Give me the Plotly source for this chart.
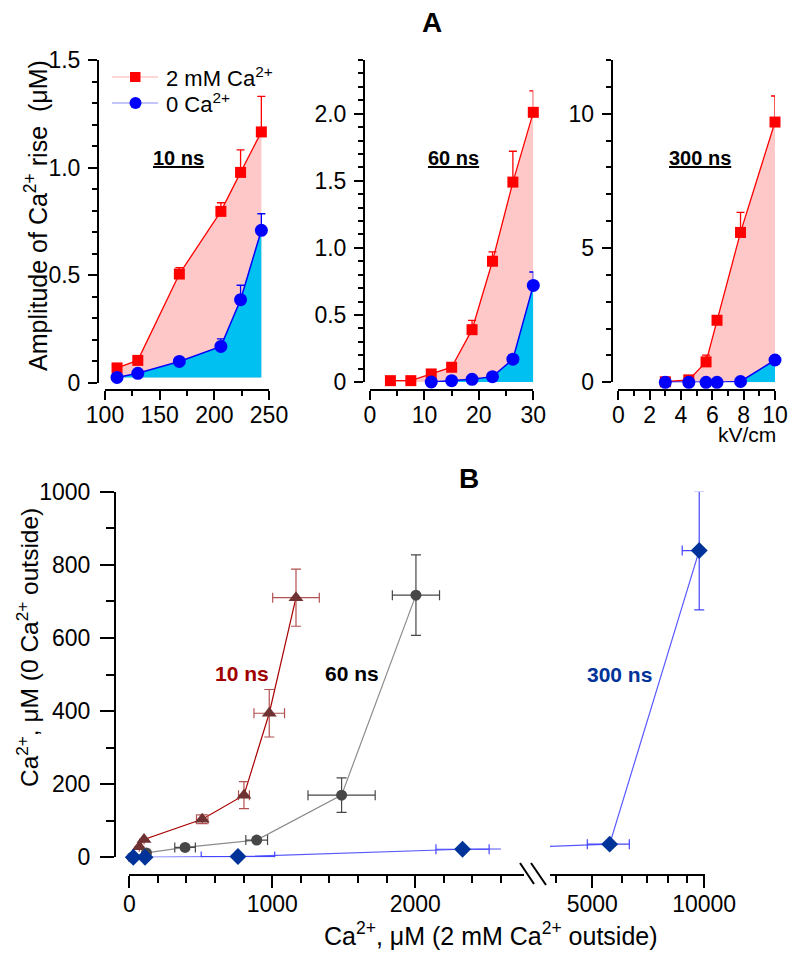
import math
import plotly.graph_objects as go

# page body has an 8px margin: draw in page pixels and convert
OFF = 8
W, H = 800 - OFF, 962 - OFF


def px(x):
    return (x - OFF) / W


def py(y):
    return 1 - (y - OFF) / H


FONT = "Arial, Liberation Sans, sans-serif"

# ---------------- Panel A data ----------------
A1_X = [111, 130, 168, 206, 224, 243]
A1_RED = [0.07, 0.105, 0.506, 0.797, 0.978, 1.166]
A1_RED_ERR = [0.0, 0.0, 0.03, 0.04, 0.105, 0.165]
A1_BLUE = [0.026, 0.045, 0.10, 0.17, 0.387, 0.709]
A1_BLUE_ERR = [0.0, 0.0, 0.0, 0.035, 0.067, 0.077]

A2_X_RED = [3.75, 7.5, 11.25, 15, 18.75, 22.5, 26.25, 30]
A2_RED = [0.01, 0.01, 0.06, 0.11, 0.39, 0.90, 1.49, 2.01]
A2_RED_ERR = [0, 0, 0, 0, 0.07, 0.07, 0.23, 0.16]
A2_X_BLUE = [11.25, 15, 18.75, 22.5, 26.25, 30]
A2_BLUE = [0.0, 0.01, 0.02, 0.04, 0.17, 0.72]
A2_BLUE_ERR = [0, 0, 0, 0, 0.03, 0.10]

A3_X = [3.0, 4.5, 5.6, 6.3, 7.8, 10.0]
A3_RED = [0.02, 0.09, 0.76, 2.31, 5.58, 9.69]
A3_RED_ERR = [0, 0, 0.25, 0, 0.75, 0.97]
A3_BLUE = [0, 0, 0, 0, 0.03, 0.83]
A3_BLUE_ERR = [0, 0, 0, 0, 0, 0]

A1_XTICKS = [100, 150, 200, 250]
A2_XTICKS = [0, 10, 20, 30]
A3_XTICKS = [0, 2, 4, 6, 8, 10]
A1_YTICKS = [0, 0.5, 1.0, 1.5]
A1_YLABELS = ["0", "0.5", "1.0", "1.5"]
A2_YTICKS = [0, 0.5, 1.0, 1.5, 2.0]
A2_YLABELS = ["0", "0.5", "1.0", "1.5", "2.0"]
A3_YTICKS = [0, 5, 10]
A3_YLABELS = ["0", "5", "10"]

PANEL_LABELS_A = ["10 ns", "60 ns", "300 ns"]

# ---------------- Panel B data ----------------
B10_X = [70, 103, 510, 802, 979, 1166]
B10_Y = [29, 49, 104, 170, 394, 710]
B10_XERR = [0, 0, 40, 38, 107, 163]
B10_YERR = [0, 0, 12, 37, 65, 78]

B60_X = [20, 120, 390, 891, 1485, 2005]
B60_Y = [0, 12, 27, 47, 170, 717]
B60_XERR = [0, 0, 72, 76, 235, 165]
B60_YERR = [0, 0, 0, 0, 47, 110]

B300_X = [28, 110, 760, 2331, 5570, 9697]
B300_Y = [0, 0, 2, 22, 36, 839]
B300_XERR = [0, 0, 257, 186, 720, 970]
B300_YERR = [0, 0, 0, 0, 0, 162]

B_XTICKS_LIN = [0, 1000, 2000]
B_XTICKS_LOG = [5000, 10000]
B_XMINOR_LOG = [4000, 6000, 7000, 8000, 9000]
B_YTICKS = [0, 200, 400, 600, 800, 1000]
B_LIN_MAX = 2600
B_LOG_MIN = 3850
B_LOG_MAX = 10050

RED = "#ff0000"
PINK = "#ffc8c8"
BLUE = "#0000ff"
CYAN = "#00c0f2"

fig = go.Figure()


def add_panel_a(xa, ya, xr, yr, er, xb, yb, eb):
    floor = min(yb)
    fig.add_trace(go.Scatter(
        x=list(xr) + [xr[-1], xr[0]], y=list(yr) + [floor, floor],
        fill="toself", fillcolor=PINK, mode="none", xaxis=xa, yaxis=ya,
        showlegend=False, hoverinfo="skip"))
    fig.add_trace(go.Scatter(
        x=list(xb) + [xb[-1], xb[0]], y=list(yb) + [floor, floor],
        fill="toself", fillcolor=CYAN, mode="none", xaxis=xa, yaxis=ya,
        showlegend=False, hoverinfo="skip"))
    fig.add_trace(go.Scatter(
        x=xr, y=yr, mode="lines+markers", xaxis=xa, yaxis=ya,
        line=dict(color=RED, width=1.3),
        marker=dict(symbol="square", size=11, color=RED),
        error_y=dict(type="data", array=er, arrayminus=[0] * len(er),
                     symmetric=False, color=RED, thickness=1.3, width=4),
        cliponaxis=False, showlegend=False))
    fig.add_trace(go.Scatter(
        x=xb, y=yb, mode="lines+markers", xaxis=xa, yaxis=ya,
        line=dict(color=BLUE, width=1.5),
        marker=dict(symbol="circle", size=13, color=BLUE),
        error_y=dict(type="data", array=eb, arrayminus=[0] * len(eb),
                     symmetric=False, color=BLUE, thickness=1.3, width=4),
        cliponaxis=False, showlegend=False))


add_panel_a("x", "y", A1_X, A1_RED, A1_RED_ERR, A1_X, A1_BLUE, A1_BLUE_ERR)
add_panel_a("x2", "y2", A2_X_RED, A2_RED, A2_RED_ERR, A2_X_BLUE, A2_BLUE, A2_BLUE_ERR)
add_panel_a("x3", "y3", A3_X, A3_RED, A3_RED_ERR, A3_X, A3_BLUE, A3_BLUE_ERR)

# ---------------- Panel B traces ----------------
C10_LINE, C10_MK, C10_ERR = "#a80000", "#6e3232", "#b45050"
C60_LINE, C60_MK, C60_ERR = "#8c8c8c", "#474747", "#474747"
C300_LINE, C300_MK, C300_ERR = "#5858ff", "#003399", "#4444ff"


def b_series(xs, ys, xe, ye, lc, mc, ec, sym, size, split=False):
    fig.add_trace(go.Scatter(x=xs, y=ys, mode="lines", xaxis="x4", yaxis="y4",
                             line=dict(color=lc, width=1.2), showlegend=False,
                             hoverinfo="skip"))
    if split:
        fig.add_trace(go.Scatter(x=xs, y=ys, mode="lines", xaxis="x5", yaxis="y4",
                                 line=dict(color=lc, width=1.2), showlegend=False,
                                 hoverinfo="skip"))
    for xa, keep in (("x4", lambda v: v <= B_LIN_MAX), ("x5", lambda v: v >= B_LOG_MIN)):
        idx = [i for i, v in enumerate(xs) if keep(v)]
        if not idx:
            continue
        fig.add_trace(go.Scatter(
            x=[xs[i] for i in idx], y=[ys[i] for i in idx], mode="markers",
            xaxis=xa, yaxis="y4",
            marker=dict(symbol=sym, size=size, color=mc),
            error_x=dict(type="data", array=[xe[i] for i in idx], color=ec,
                         thickness=1.2, width=5),
            error_y=dict(type="data", array=[ye[i] for i in idx], color=ec,
                         thickness=1.2, width=5),
            cliponaxis=False, showlegend=False))


b_series(B10_X, B10_Y, B10_XERR, B10_YERR, C10_LINE, C10_MK, C10_ERR, "triangle-up", 13)
b_series(B60_X, B60_Y, B60_XERR, B60_YERR, C60_LINE, C60_MK, C60_ERR, "circle", 11)
b_series(B300_X, B300_Y, B300_XERR, B300_YERR, C300_LINE, C300_MK, C300_ERR, "diamond", 13, split=True)

# ---------------- Axes ----------------
TICKFONT = dict(family=FONT, size=23, color="black")


def xax(dom, rng, pos_y, tickvals, minor, ticklen=9, mlen=5, **kw):
    d = dict(domain=[px(dom[0]), px(dom[1])], range=rng, anchor="free",
             position=py(pos_y), showline=True, linecolor="black", linewidth=2,
             ticks="outside", ticklen=ticklen, tickwidth=2, tickcolor="black",
             tickvals=tickvals, tickfont=TICKFONT, showgrid=False, zeroline=False,
             ticklabelstandoff=-5, minor=minor)
    d["minor"].update(dict(ticks="outside", ticklen=mlen, tickwidth=2, tickcolor="black",
                           showgrid=False))
    d.update(kw)
    return d


def yax(dom, rng, pos_x, tickvals, ticktext, minor, ticklen=9, mlen=5, **kw):
    d = dict(domain=[py(dom[1]), py(dom[0])], range=rng, anchor="free",
             position=px(pos_x), showline=True, linecolor="black", linewidth=2,
             ticks="outside", ticklen=ticklen, tickwidth=2, tickcolor="black",
             tickvals=tickvals, ticktext=ticktext, tickfont=TICKFONT,
             showgrid=False, zeroline=False, ticklabelstandoff=3, minor=minor)
    d["minor"].update(dict(ticks="outside", ticklen=mlen, tickwidth=2, tickcolor="black",
                           showgrid=False))
    d.update(kw)
    return d


fig.update_layout(
    xaxis=xax((105, 269), [100, 250], 390, A1_XTICKS, dict(dtick=25)),
    yaxis=yax((60, 383), [0, 1.5], 98, A1_YTICKS, A1_YLABELS, dict(dtick=0.1)),
    xaxis2=xax((370, 533.3), [0, 30], 390, A2_XTICKS, dict(dtick=5)),
    yaxis2=yax((60, 382), [0, 2.4], 364, A2_YTICKS, A2_YLABELS, dict(dtick=0.1)),
    xaxis3=xax((618.3, 775), [0, 10], 390, A3_XTICKS, dict(dtick=1)),
    yaxis3=yax((60, 382.3), [0, 12], 611.7, A3_YTICKS, A3_YLABELS, dict(dtick=1)),
    xaxis4=xax((129.3, 501), [0, B_LIN_MAX], 875, B_XTICKS_LIN, dict(dtick=200),
               ticklen=12, mlen=7, ticklabelstandoff=-4),
    xaxis5=xax((550, 705), [math.log10(B_LOG_MIN), math.log10(B_LOG_MAX)], 875,
               B_XTICKS_LOG, dict(tickmode="array", tickvals=B_XMINOR_LOG),
               ticklen=12, mlen=7, type="log", ticktext=["5000", "10000"],
               ticklabelstandoff=-4),
    yaxis4=yax((491.7, 857.3), [0, 1000], 115, B_YTICKS, [str(v) for v in B_YTICKS],
               dict(dtick=100), ticklen=14, mlen=8, ticklabelstandoff=5),
)

# ---------------- Annotations ----------------
ann = []


def txt(x, y, text, size, color="black", bold=False, xanchor="center", angle=0):
    t = f"<b>{text}</b>" if bold else text
    ann.append(dict(x=px(x), y=py(y), xref="paper", yref="paper", text=t,
                    showarrow=False, xanchor=xanchor, yanchor="middle",
                    textangle=angle, font=dict(family=FONT, size=size, color=color)))


txt(432, 22, "A", 28, bold=True)
txt(469, 478, "B", 28, bold=True)
txt(36, 216, "Amplitude of Ca<sup>2+</sup> rise\u00a0 (\u03bcM)", 25, angle=-90)
txt(178.5, 158, f"<u>{PANEL_LABELS_A[0]}</u>", 20, bold=True)
txt(453.7, 158, f"<u>{PANEL_LABELS_A[1]}</u>", 20, bold=True)
txt(699.5, 158, f"<u>{PANEL_LABELS_A[2]}</u>", 20, bold=True)
txt(778, 434, "kV/cm", 21, xanchor="right")

# legend
txt(164, 77, "2 mM Ca<sup>2+</sup>", 22, xanchor="left")
txt(164, 103, "0 Ca<sup>2+</sup>", 22, xanchor="left")

# panel B labels
txt(27, 648, "Ca<sup>2+</sup>, \u03bcM (0 Ca<sup>2+</sup> outside)", 24.5, angle=-90)
txt(491, 934, "Ca<sup>2+</sup>, \u03bcM (2 mM Ca<sup>2+</sup> outside)", 25)
txt(241.7, 673, "10 ns", 21, color="#a00000", bold=True)
txt(352, 673, "60 ns", 21, bold=True)
txt(619, 674, "300 ns", 21, color="#003399", bold=True)

# ---------------- Shapes (legend keys, axis break) ----------------
shapes = []


def pline(x0, y0, x1, y1, color, width):
    shapes.append(dict(type="line", xref="paper", yref="paper", x0=px(x0), y0=py(y0),
                       x1=px(x1), y1=py(y1), line=dict(color=color, width=width)))


pline(112, 77, 158, 77, "#ffb0b0", 1.2)
shapes.append(dict(type="rect", xref="paper", yref="paper", x0=px(130), x1=px(140.5),
                   y0=py(82), y1=py(72), fillcolor=RED, line=dict(width=0)))
pline(112, 103, 158, 103, "#8a8aff", 1.2)
shapes.append(dict(type="circle", xref="paper", yref="paper", x0=px(129.5), x1=px(141.5),
                   y0=py(109), y1=py(97), fillcolor=BLUE, line=dict(width=0)))

# broken x axis in panel B
pline(501, 875, 524, 875, "black", 2)
pline(520, 863, 534, 884, "black", 2)
pline(531, 863, 546, 885, "black", 2)

fig.update_layout(
    width=W, height=H, margin=dict(l=0, r=0, t=0, b=0),
    paper_bgcolor="white", plot_bgcolor="white", template="none",
    annotations=ann, shapes=shapes, showlegend=False,
    font=dict(family=FONT, color="black"),
)

fig.write_html("out.html")
